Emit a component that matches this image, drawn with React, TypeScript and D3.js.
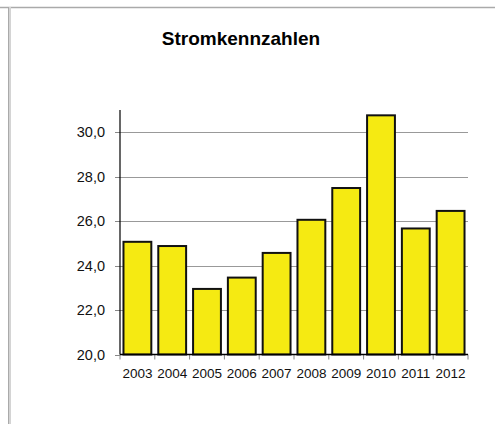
import React from "react";
import * as d3 from "d3";

const WIDTH = 495;
const HEIGHT = 424;

const years = ["2003", "2004", "2005", "2006", "2007", "2008", "2009", "2010", "2011", "2012"];
const values = [25.07, 24.88, 22.95, 23.46, 24.57, 26.06, 27.49, 30.76, 25.67, 26.46];
const yTicks = [20, 22, 24, 26, 28, 30];

const TITLE = "Stromkennzahlen";
const FONT = "'Liberation Sans', Arial, Helvetica, sans-serif";

const plot = { left: 120, right: 468, top: 110, bottom: 354.5 };

export default function App() {
  const x = d3
    .scaleBand<string>()
    .domain(years)
    .range([plot.left, plot.right])
    .paddingInner(0.2)
    .paddingOuter(0.1);

  const y = d3.scaleLinear().domain([20, 31]).range([plot.bottom, plot.top]);

  const step = x.step();
  const fmt = (v: number) => v.toFixed(1).replace(".", ",");

  return (
    <svg
      width={WIDTH}
      height={HEIGHT}
      style={{ position: "absolute", left: 0, top: 0, background: "#fff" }}
      fontFamily={FONT}
    >
      {/* frame */}
      <line x1={0} x2={WIDTH} y1={7.5} y2={7.5} stroke="#aaa" strokeWidth={1.5} />
      <rect x={8} y={7} width={3} height={HEIGHT - 7} fill="#d4d4d4" />
      <line x1={8.5} x2={8.5} y1={7} y2={HEIGHT} stroke="#aaa" />

      <text x={241} y={45} textAnchor="middle" fontSize={19} fontWeight="bold" fill="#000">
        {TITLE}
      </text>

      {/* gridlines + y ticks */}
      {yTicks.map((t) => (
        <g key={t}>
          {t > 20 && (
            <line
              x1={plot.left}
              x2={plot.right}
              y1={Math.round(y(t)) + 0.5}
              y2={Math.round(y(t)) + 0.5}
              stroke="#999"
            />
          )}
          <line
            x1={plot.left - 5}
            x2={plot.left}
            y1={Math.round(y(t)) + 0.5}
            y2={Math.round(y(t)) + 0.5}
            stroke="#888"
          />
          <text x={105} y={y(t)} dy="0.36em" textAnchor="end" fontSize={14.5} fill="#111">
            {fmt(t)}
          </text>
        </g>
      ))}

      {/* bars */}
      {years.map((yr, i) => (
        <rect
          key={yr}
          x={x(yr)}
          y={y(values[i])}
          width={x.bandwidth()}
          height={plot.bottom - y(values[i])}
          fill="#f5ea12"
          stroke="#111"
          strokeWidth={2}
        />
      ))}

      {/* x ticks */}
      {d3.range(years.length + 1).map((i) => (
        <line
          key={i}
          x1={plot.left + i * step}
          x2={plot.left + i * step}
          y1={plot.bottom}
          y2={plot.bottom + 5}
          stroke="#888"
        />
      ))}

      {/* axes */}
      <line x1={plot.left} x2={plot.left} y1={plot.top} y2={plot.bottom} stroke="#000" strokeWidth={1.2} />
      <line x1={plot.left} x2={plot.right} y1={plot.bottom} y2={plot.bottom} stroke="#000" strokeWidth={1.5} />

      {years.map((yr) => (
        <text
          key={yr}
          x={(x(yr) as number) + x.bandwidth() / 2}
          y={378}
          textAnchor="middle"
          fontSize={13.5}
          fill="#111"
        >
          {yr}
        </text>
      ))}
    </svg>
  );
}
